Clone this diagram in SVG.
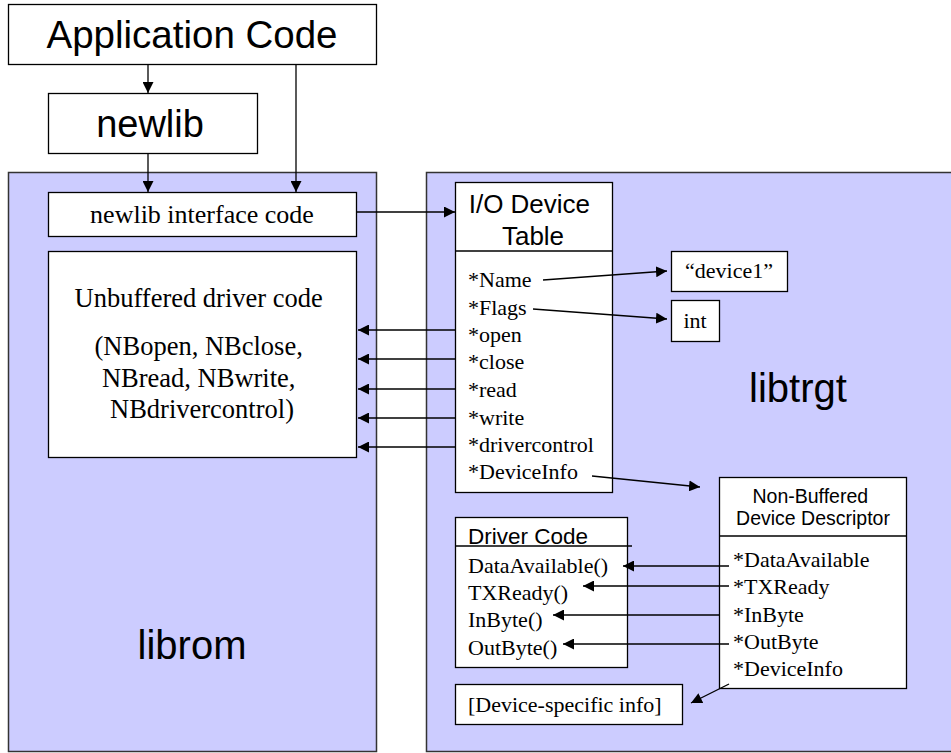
<svg xmlns="http://www.w3.org/2000/svg" width="951" height="753" viewBox="0 0 951 753">
<defs>
<marker id="ah" viewBox="0 0 10 10" refX="10" refY="5" markerWidth="11" markerHeight="11" markerUnits="userSpaceOnUse" orient="auto">
<path d="M0,0 L10,5 L0,10 z" fill="#000"/>
</marker>
<style>
.lib{fill:#CCCCFF;stroke:#333;stroke-width:1.5}
.box{fill:#fff;stroke:#000;stroke-width:1.3}
.ln{stroke:#000;stroke-width:1.3;fill:none}
.c{stroke:#000;stroke-width:1.3;fill:none;marker-end:url(#ah)}
.s{font-family:"Liberation Sans",Arial,sans-serif;fill:#000}
.t{font-family:"Liberation Serif","Times New Roman",serif;fill:#000}
</style>
</defs>
<rect width="951" height="753" fill="#fff"/>
<g id="librom">
<rect class="lib" x="8.5" y="172.5" width="368" height="579"/>
<text class="s" x="192" y="659" font-size="40" text-anchor="middle">librom</text>
</g>
<g id="libtrgt">
<rect class="lib" x="426.5" y="172.5" width="540" height="579"/>
<text class="s" x="798" y="402" font-size="40" text-anchor="middle">libtrgt</text>
</g>
<g id="app">
<rect class="box" x="8.5" y="4.5" width="368" height="60"/>
<text class="s" x="192" y="48" font-size="38.5" text-anchor="middle">Application Code</text>
</g>
<g id="newlib">
<rect class="box" x="48.5" y="93.5" width="209" height="60"/>
<text class="s" x="150" y="137" font-size="38" text-anchor="middle">newlib</text>
</g>
<g id="iface">
<rect class="box" x="48.5" y="192.5" width="308" height="44"/>
<text class="t" x="202" y="223" font-size="26" text-anchor="middle">newlib interface code</text>
</g>
<g id="unbuf">
<rect class="box" x="48.5" y="251.5" width="308" height="206"/>
<text class="t" font-size="26.5" text-anchor="middle">
<tspan x="202" y="307">Unbuffered driver code</tspan>
<tspan x="202" y="355">(NBopen, NBclose,</tspan>
<tspan x="202" y="387">NBread, NBwrite,</tspan>
<tspan x="202" y="418">NBdrivercontrol)</tspan>
</text>
</g>
<g id="iotable">
<rect class="box" x="455.5" y="182.5" width="157" height="310"/>
<line class="ln" x1="455.5" y1="251" x2="612.5" y2="251"/>
<text class="s" font-size="26" text-anchor="middle">
<tspan x="533" y="213">I/O Device</tspan>
<tspan x="533" y="245">Table</tspan>
</text>
<text class="t" font-size="22">
<tspan x="468" y="287">*Name</tspan>
<tspan x="468" y="315">*Flags</tspan>
<tspan x="468" y="342">*open</tspan>
<tspan x="468" y="369">*close</tspan>
<tspan x="468" y="397">*read</tspan>
<tspan x="468" y="425">*write</tspan>
<tspan x="468" y="452">*drivercontrol</tspan>
<tspan x="468" y="479">*DeviceInfo</tspan>
</text>
</g>
<g id="device1">
<rect class="box" x="671.5" y="251.5" width="116" height="40"/>
<text class="t" x="729" y="278" font-size="22" text-anchor="middle">“device1”</text>
</g>
<g id="int">
<rect class="box" x="671.5" y="300.5" width="48" height="41"/>
<text class="t" x="695" y="328" font-size="22" text-anchor="middle">int</text>
</g>
<g id="nbdesc">
<rect class="box" x="719.5" y="477.5" width="187" height="211"/>
<line class="ln" x1="719.5" y1="536" x2="906.5" y2="536"/>
<text class="s" font-size="19.5" text-anchor="middle">
<tspan x="813" y="503">Non-Buffered</tspan>
<tspan x="813" y="525">Device Descriptor</tspan>
</text>
<text class="t" font-size="22">
<tspan x="733" y="567">*DataAvailable</tspan>
<tspan x="733" y="594">*TXReady</tspan>
<tspan x="733" y="622">*InByte</tspan>
<tspan x="733" y="649">*OutByte</tspan>
<tspan x="733" y="676">*DeviceInfo</tspan>
</text>
</g>
<g id="drivercode">
<rect class="box" x="455.5" y="517.5" width="172" height="150"/>
<line class="ln" x1="455.5" y1="546" x2="632" y2="546"/>
<text class="s" x="468" y="544" font-size="22.5">Driver Code</text>
<text class="t" font-size="22">
<tspan x="468" y="573">DataAvailable()</tspan>
<tspan x="468" y="600">TXReady()</tspan>
<tspan x="468" y="627">InByte()</tspan>
<tspan x="468" y="655">OutByte()</tspan>
</text>
</g>
<g id="devinfo">
<rect class="box" x="455.5" y="684.5" width="227" height="40"/>
<text class="t" x="468" y="712" font-size="22">[Device-specific info]</text>
</g>
<g id="connectors">
<line class="c" x1="148" y1="64.5" x2="148" y2="93"/>
<line class="c" x1="148" y1="154" x2="148" y2="192"/>
<line class="c" x1="296" y1="64.5" x2="296" y2="192"/>
<line class="c" x1="357" y1="212" x2="455" y2="212"/>
<line class="c" x1="455" y1="330" x2="358" y2="330"/>
<line class="c" x1="455" y1="359" x2="358" y2="359"/>
<line class="c" x1="455" y1="389" x2="358" y2="389"/>
<line class="c" x1="455" y1="418" x2="358" y2="418"/>
<line class="c" x1="455" y1="447" x2="358" y2="447"/>
<line class="c" x1="543" y1="280" x2="667" y2="271"/>
<line class="c" x1="533" y1="309" x2="667" y2="319"/>
<line class="c" x1="592" y1="476" x2="700" y2="487"/>
<line class="c" x1="729" y1="566" x2="623" y2="566"/>
<line class="c" x1="729" y1="586" x2="583" y2="586"/>
<line class="c" x1="719" y1="615" x2="553" y2="615"/>
<line class="c" x1="729" y1="644" x2="563" y2="644"/>
<line class="c" x1="729" y1="684" x2="691" y2="703"/>
</g>
</svg>
